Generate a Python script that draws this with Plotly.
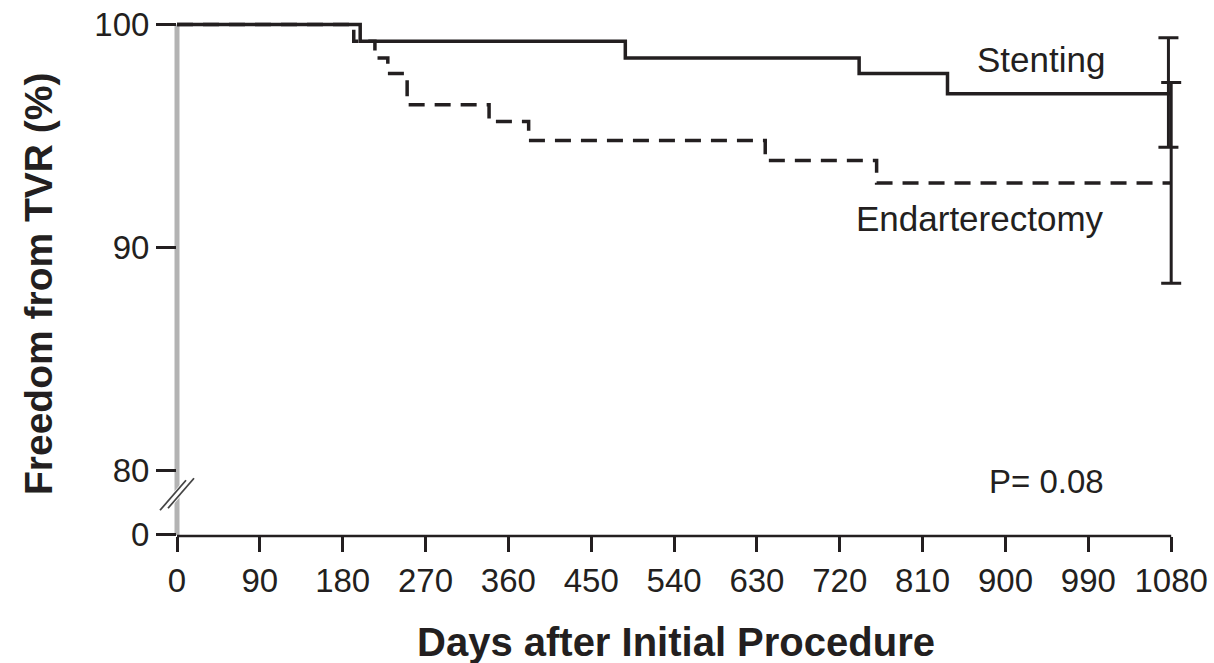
import plotly.graph_objects as go

# ---- data ----
stent_days = [0, 199, 487, 741, 837, 1080]
stent_surv = [100, 99.25, 98.5, 97.8, 96.9, 96.9]
endart_days = [0, 192, 215, 229, 250, 339, 382, 639, 760, 1080]
endart_surv = [100, 99.25, 98.5, 97.8, 96.4, 95.65, 94.8, 93.9, 92.9, 92.9]
stent_ci_day = [1077]
endart_ci_day = [1080]
stent_ci = [94.5, 99.4]      # lower, upper
endart_ci = [88.4, 97.4]
x_ticks = [0, 90, 180, 270, 360, 450, 540, 630, 720, 810, 900, 990, 1080]
y_zero_pos = 77.13            # where the broken axis shows "0"
y_tickvals = [y_zero_pos, 80, 90, 100]
y_ticktext = ["0", "80", "90", "100"]

INK = "#231f20"
FONT = "Liberation Sans, Arial, sans-serif"

fig = go.Figure()

fig.add_trace(go.Scatter(x=endart_days, y=endart_surv, mode="lines", line_shape="hv",
                         line=dict(color=INK, width=3.5, dash="16px,10px"),
                         showlegend=False, hoverinfo="skip"))
fig.add_trace(go.Scatter(x=stent_days, y=stent_surv, mode="lines", line_shape="hv",
                         line=dict(color=INK, width=3.5),
                         showlegend=False, hoverinfo="skip"))

for day, surv, ci in ((stent_ci_day, stent_surv, stent_ci), (endart_ci_day, endart_surv, endart_ci)):
    est = surv[-1]
    fig.add_trace(go.Scatter(
        x=day, y=[est], mode="markers", marker=dict(size=1, color="rgba(0,0,0,0)"),
        error_y=dict(type="data", symmetric=False, array=[ci[1] - est],
                     arrayminus=[est - ci[0]], color=INK, thickness=3, width=10),
        cliponaxis=False, showlegend=False, hoverinfo="skip"))

# gray y-axis line, black x-axis line and axis break marks
shapes = [
    dict(type="line", xref="paper", yref="y", x0=0, x1=0, y0=y_zero_pos, y1=100,
         line=dict(color="#b3b3b3", width=5), layer="below"),
    dict(type="line", xref="x", yref="paper", x0=x_ticks[0], x1=x_ticks[-1], y0=0, y1=0,
         line=dict(color=INK, width=2.5)),
    dict(type="line", xref="paper", yref="y", xsizemode="pixel", ysizemode="pixel",
         xanchor=0, yanchor=78.95, x0=-13, x1=13, y0=-15, y1=15,
         line=dict(color="white", width=8)),
    dict(type="line", xref="paper", yref="y", xsizemode="pixel", ysizemode="pixel",
         xanchor=0, yanchor=78.95, x0=-17, x1=9, y0=-16, y1=14,
         line=dict(color="#444444", width=1.8)),
    dict(type="line", xref="paper", yref="y", xsizemode="pixel", ysizemode="pixel",
         xanchor=0, yanchor=78.95, x0=-9, x1=17, y0=-14, y1=16,
         line=dict(color="#444444", width=1.8)),
]

annotations = [
    dict(x=939, y=98.43, xref="x", yref="y", text="Stenting", showarrow=False,
         font=dict(family=FONT, size=35, color=INK), xanchor="center", yanchor="middle"),
    dict(x=1009, y=91.3, xref="x", yref="y", text="Endarterectomy", showarrow=False,
         font=dict(family=FONT, size=35, color=INK), xanchor="right", yanchor="middle"),
    dict(x=1009, y=79.5, xref="x", yref="y", text="P= 0.08", showarrow=False,
         font=dict(family=FONT, size=33, color=INK), xanchor="right", yanchor="middle"),
    dict(x=0.495, y=-0.205, xref="paper", yref="paper", text="<b>Days after Initial Procedure</b>",
         showarrow=False, font=dict(family=FONT, size=40, color=INK),
         xanchor="center", yanchor="middle"),
    dict(x=-0.138, y=0.49, xref="paper", yref="paper", text="<b>Freedom from TVR (%)</b>",
         showarrow=False, textangle=-90, font=dict(family=FONT, size=39, color=INK),
         xanchor="center", yanchor="middle"),
]

fig.update_layout(
    width=1214, height=663,
    margin=dict(l=177, r=29, t=20, b=127),
    paper_bgcolor="white", plot_bgcolor="white",
    shapes=shapes, annotations=annotations,
    xaxis=dict(range=[0, 1095], tickvals=x_ticks, ticks="outside", ticklen=15,
               tickwidth=2.5, tickcolor=INK, showline=False,
               showgrid=False, zeroline=False, automargin=False,
               tickfont=dict(family=FONT, size=33, color=INK)),
    yaxis=dict(range=[77.08, 100.2], tickvals=y_tickvals, ticktext=y_ticktext,
               ticks="outside", ticklen=20, tickwidth=2.5, tickcolor=INK,
               showline=False, showgrid=False, zeroline=False, automargin=False,
               tickfont=dict(family=FONT, size=33, color=INK)),
)

fig.write_html("out.html", config={"displayModeBar": False},
               post_script="document.body.style.margin='0';document.body.style.padding='0';")
